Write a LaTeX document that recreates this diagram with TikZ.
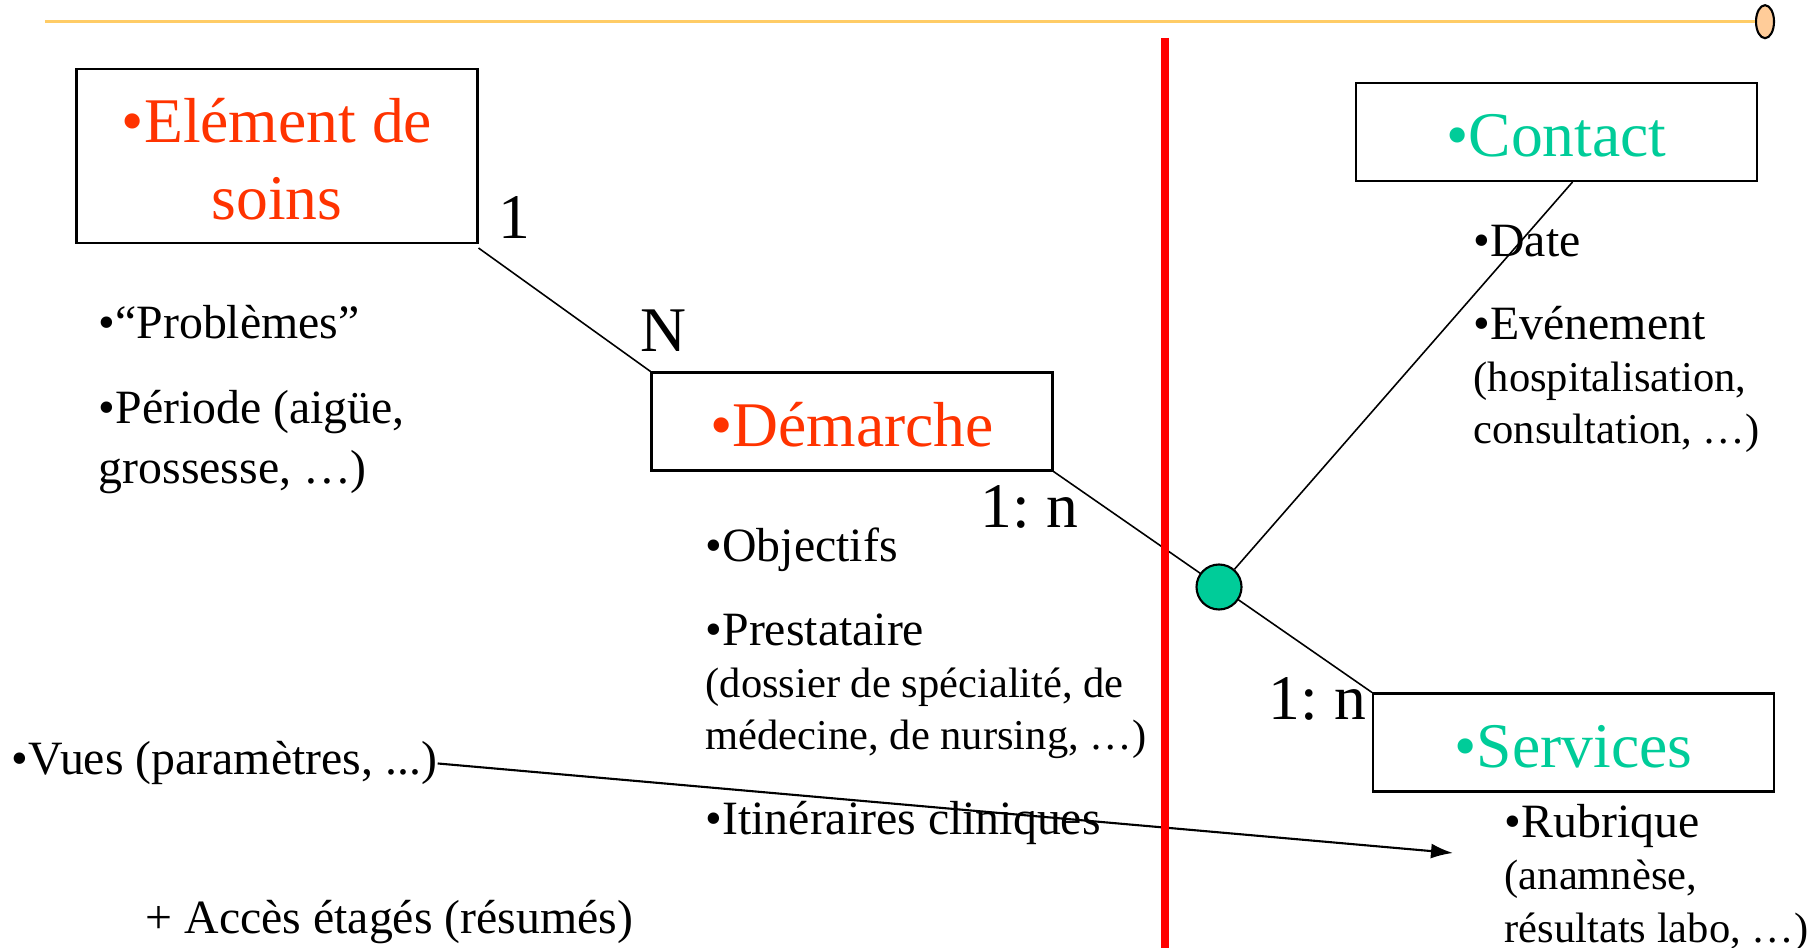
\documentclass[tikz,border=0pt]{standalone}
\usepackage{fontspec}
\setmainfont{Liberation Serif}
\usetikzlibrary{arrows.meta,shapes.geometric}

\definecolor{titlered}{HTML}{FF3300}
\definecolor{titlegreen}{HTML}{00CC99}
\definecolor{linered}{HTML}{FF0000}
\definecolor{lineorange}{HTML}{FFCC66}
\definecolor{knobfill}{HTML}{FFCC99}

\newcommand{\titlefont}{\fontsize{18.1pt}{21.9pt}\selectfont}
\newcommand{\itemfont}{\fontsize{13.6pt}{17.1pt}\selectfont}
\newcommand{\headfont}{\fontsize{13.6pt}{14.8pt}\selectfont}
\newcommand{\subfont}{\fontsize{12.1pt}{14.8pt}\selectfont}

\tikzset{
    box/.style={draw, line width=0.6pt, minimum width=4.01cm, minimum height=0.98cm,
        inner sep=0pt, text height=14.2pt, text depth=0pt, font=\titlefont},
    attr/.style={anchor=base west, inner sep=0pt, align=left, font=\itemfont},
    subattr/.style={anchor=base west, inner sep=0pt, align=left, font=\subfont},
    card/.style={anchor=base west, inner sep=0pt, font=\titlefont},
    link/.style={line width=0.45pt}
}

\begin{document}
\begin{tikzpicture}
    \useasboundingbox (0,0) rectangle (18.16,-9.48);
    
    % top rule
    \coordinate (rulestart) at (0.45,-0.217);
    \node[draw, ellipse, line width=0.6pt, fill=knobfill, minimum width=0.18cm, minimum height=0.33cm, inner sep=0pt] (knob) at (17.65,-0.217) {};
    \draw[lineorange, line width=0.7pt] (rulestart) -- (knob.west);
    
    % entities
    \node[box, text=titlered, minimum height=1.74cm, align=center, text height=36.4pt, text depth=0pt] (elem) at (2.77,-1.56) {•Elément de\\soins};
    \node[box, text=titlered] (dem) at (8.52,-4.215) {•Démarche};
    \node[box, text=titlegreen] (ct) at (15.565,-1.32) {•Contact};
    \node[box, text=titlegreen] (serv) at (15.735,-7.425) {•Services};
    
    % attributes (multi-line nodes sit on their last line)
    \node[attr] (prob) at (0.98,-3.39) {•“Problèmes”};
    \node[attr] (periode) at (0.98,-4.84) {•Période (aigüe,\\grossesse, …)};
    
    \node[attr] (obj) at (7.05,-5.62) {•Objectifs};
    \node[subattr] (prest) at (7.05,-7.50) {{\headfont •Prestataire}\\(dossier de spécialité, de\\médecine, de nursing, …)};
    \node[attr] (itin) at (7.05,-8.35) {•Itinéraires cliniques};
    
    \node[attr] (date) at (14.73,-2.57) {•Date};
    \node[subattr] (even) at (14.73,-4.44) {{\headfont •Evénement}\\(hospitalisation,\\consultation, …)};
    
    \node[subattr] (rub) at (15.04,-9.42) {{\headfont •Rubrique}\\(anamnèse,\\résultats labo, …)};
    
    \node[attr] (vues) at (0.11,-7.75) {•Vues (paramètres, ...)};
    \node[attr] (acces) at (1.45,-9.33) {+ Accès étagés (résumés)};
    
    % cardinalities
    \node[card] (c1) at (4.98,-2.39) {1};
    \node[card] (cn) at (6.40,-3.52) {N};
    \node[card] (cdem) at (9.80,-5.28) {1:\ n};
    \node[card] (cserv) at (12.68,-7.20) {1:\ n};
    
    % links
    \draw[link] ([yshift=-0.04cm]elem.south east) -- (dem.north west);
    \draw[link] (dem.south east) -- (serv.north west);
    \node[circle, draw, line width=0.6pt, fill=titlegreen, minimum size=0.45cm, inner sep=0pt] (gc) at (12.19,-5.87) {};
    \draw[link] (gc) -- ([xshift=0.16cm]ct.south);
    
    \coordinate (rubtip) at (14.53,-8.53);
    \draw[line width=0.6pt, -{Latex[length=2.2mm, width=1.5mm]}] (vues.east) -- (rubtip);
    
    % separation
    \draw[linered, line width=2.3pt] (11.65,-0.38) -- (11.65,-9.48);
\end{tikzpicture}
\end{document}
